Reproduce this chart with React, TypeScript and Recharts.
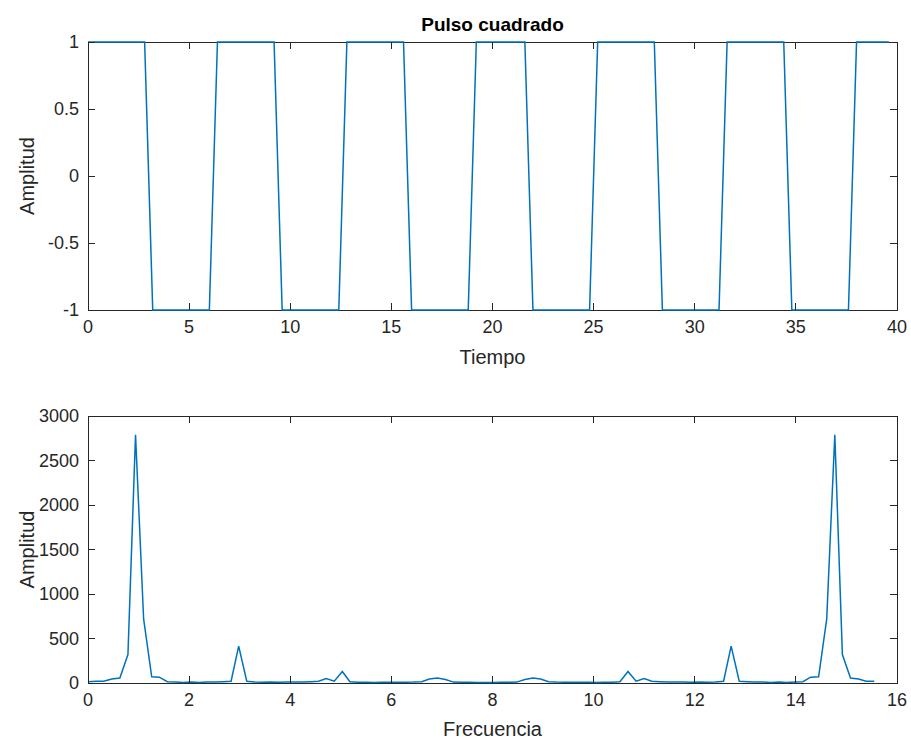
import { Line, LineChart, XAxis, YAxis } from "recharts";

// Pulso cuadrado: muestras cada 0.4 s
const TIEMPO = [
  0, 0.4, 0.8, 1.2, 1.6, 2, 2.4, 2.8, 3.2, 3.6, 4, 4.4, 4.8, 5.2, 5.6, 6, 6.4, 6.8, 7.2, 7.6,
  8, 8.4, 8.8, 9.2, 9.6, 10, 10.4, 10.8, 11.2, 11.6, 12, 12.4, 12.8, 13.2, 13.6, 14, 14.4, 14.8, 15.2, 15.6,
  16, 16.4, 16.8, 17.2, 17.6, 18, 18.4, 18.8, 19.2, 19.6, 20, 20.4, 20.8, 21.2, 21.6, 22, 22.4, 22.8, 23.2, 23.6,
  24, 24.4, 24.8, 25.2, 25.6, 26, 26.4, 26.8, 27.2, 27.6, 28, 28.4, 28.8, 29.2, 29.6, 30, 30.4, 30.8, 31.2, 31.6,
  32, 32.4, 32.8, 33.2, 33.6, 34, 34.4, 34.8, 35.2, 35.6, 36, 36.4, 36.8, 37.2, 37.6, 38, 38.4, 38.8, 39.2, 39.6,
];

const PULSO = [
  1, 1, 1, 1, 1, 1, 1, 1, -1, -1, -1, -1, -1, -1, -1, -1, 1, 1, 1, 1,
  1, 1, 1, 1, -1, -1, -1, -1, -1, -1, -1, -1, 1, 1, 1, 1, 1, 1, 1, 1,
  -1, -1, -1, -1, -1, -1, -1, -1, 1, 1, 1, 1, 1, 1, 1, -1, -1, -1, -1, -1,
  -1, -1, -1, 1, 1, 1, 1, 1, 1, 1, 1, -1, -1, -1, -1, -1, -1, -1, -1, 1,
  1, 1, 1, 1, 1, 1, 1, -1, -1, -1, -1, -1, -1, -1, -1, 1, 1, 1, 1, 1,
];

// Espectro (magnitud)
const FRECUENCIA = [
  0, 0.16, 0.31, 0.47, 0.63, 0.79, 0.94, 1.1, 1.26, 1.41, 1.57, 1.73, 1.88, 2.04, 2.2, 2.36, 2.51, 2.67, 2.83, 2.98,
  3.14, 3.3, 3.46, 3.61, 3.77, 3.93, 4.08, 4.24, 4.4, 4.56, 4.71, 4.87, 5.03, 5.18, 5.34, 5.5, 5.65, 5.81, 5.97, 6.13,
  6.28, 6.44, 6.6, 6.75, 6.91, 7.07, 7.23, 7.38, 7.54, 7.7, 7.85, 8.01, 8.17, 8.33, 8.48, 8.64, 8.8, 8.95, 9.11, 9.27,
  9.42, 9.58, 9.74, 9.9, 10.05, 10.21, 10.37, 10.52, 10.68, 10.84, 11, 11.15, 11.31, 11.47, 11.62, 11.78, 11.94, 12.1, 12.25, 12.41,
  12.57, 12.72, 12.88, 13.04, 13.19, 13.35, 13.51, 13.67, 13.82, 13.98, 14.14, 14.29, 14.45, 14.61, 14.77, 14.92, 15.08, 15.24, 15.39, 15.55,
];

const MAGNITUD = [
  15, 20, 20, 45, 55, 320, 2790, 720, 70, 65, 15, 10, 6, 10, 6, 10, 10, 15, 20, 415,
  20, 10, 8, 10, 8, 10, 10, 12, 15, 20, 50, 20, 130, 15, 8, 8, 6, 8, 8, 8,
  8, 10, 15, 45, 55, 40, 10, 8, 8, 6, 5, 6, 8, 8, 10, 40, 55, 45, 15, 10,
  8, 8, 8, 8, 6, 8, 8, 15, 130, 20, 50, 20, 15, 12, 10, 10, 8, 10, 8, 10,
  20, 415, 20, 15, 10, 10, 6, 10, 6, 10, 15, 65, 70, 720, 2790, 320, 55, 45, 20, 20,
];

const TICKS_TIEMPO = [0, 5, 10, 15, 20, 25, 30, 35, 40];
const TICKS_PULSO = [-1, -0.5, 0, 0.5, 1];
const TICKS_FRECUENCIA = [0, 2, 4, 6, 8, 10, 12, 14, 16];
const TICKS_MAGNITUD = [0, 500, 1000, 1500, 2000, 2500, 3000];

const AXIS = "#262626";
const BLUE = "#0072BD";
const FONT = "'Liberation Sans', Arial, Helvetica, sans-serif";
const TICK_FONT = 18;
const LABEL_FONT = 20;
const TICK = 7;
const W = 911;
const H = 370;
const PLOT_LEFT = 88;
const PLOT_RIGHT = 897;

// ticks hacia dentro, abajo y arriba
const makeXTick = (plotTop: number) => (props: any) => {
  const { x, y, payload } = props;
  return (
    <g>
      <line x1={x} x2={x} y1={y} y2={y - TICK} stroke={AXIS} shapeRendering="crispEdges" />
      <line x1={x} x2={x} y1={plotTop} y2={plotTop + TICK} stroke={AXIS} shapeRendering="crispEdges" />
      <text x={x} y={y + 23} textAnchor="middle" fill={AXIS} fontSize={TICK_FONT} fontFamily={FONT}>
        {payload.value}
      </text>
    </g>
  );
};

const makeYTick = () => (props: any) => {
  const { x, y, payload } = props;
  return (
    <g>
      <line x1={x} x2={x + TICK} y1={y} y2={y} stroke={AXIS} shapeRendering="crispEdges" />
      <line x1={PLOT_RIGHT} x2={PLOT_RIGHT - TICK} y1={y} y2={y} stroke={AXIS} shapeRendering="crispEdges" />
      <text x={x - 9} y={y} dy="0.35em" textAnchor="end" fill={AXIS} fontSize={TICK_FONT} fontFamily={FONT}>
        {payload.value}
      </text>
    </g>
  );
};

const yTitle = {
  value: "Amplitud",
  angle: -90,
  position: "insideLeft" as const,
  offset: 27,
  fill: AXIS,
  fontSize: LABEL_FONT,
  fontFamily: FONT,
  style: { textAnchor: "middle" },
};

// marco de los ejes, detrás del svg para que la línea quede encima
function Frame({ top, bottom }: { top: number; bottom: number }) {
  return (
    <div
      style={{
        position: "absolute",
        left: PLOT_LEFT,
        top,
        width: PLOT_RIGHT - PLOT_LEFT + 1,
        height: bottom - top + 1,
        border: `1px solid ${AXIS}`,
        boxSizing: "border-box",
      }}
    />
  );
}

function Panel({
  data,
  plotTop,
  xHeight,
  xTicks,
  xDomain,
  yTicks,
  yDomain,
  xTitle,
  xTitleOffset,
}: {
  data: { x: number; y: number }[];
  plotTop: number;
  xHeight: number;
  xTicks: number[];
  xDomain: [number, number];
  yTicks: number[];
  yDomain: [number, number];
  xTitle: string;
  xTitleOffset: number;
}) {
  return (
    <LineChart
      width={W}
      height={H}
      data={data}
      margin={{ top: plotTop, right: W - PLOT_RIGHT, bottom: 0, left: 0 }}
    >
      <XAxis
        dataKey="x"
        type="number"
        domain={xDomain}
        ticks={xTicks}
        interval={0}
        height={xHeight}
        axisLine={false}
        tickLine={false}
        tickSize={0}
        tickMargin={0}
        tick={makeXTick(plotTop)}
        label={{
          value: xTitle,
          position: "insideBottom",
          offset: xTitleOffset,
          fill: AXIS,
          fontSize: LABEL_FONT,
          fontFamily: FONT,
        }}
      />
      <YAxis
        type="number"
        domain={yDomain}
        ticks={yTicks}
        interval={0}
        width={PLOT_LEFT}
        axisLine={false}
        tickLine={false}
        tickSize={0}
        tickMargin={0}
        tick={makeYTick()}
        label={yTitle}
      />
      <Line
        type="linear"
        dataKey="y"
        stroke={BLUE}
        strokeWidth={1.5}
        dot={false}
        activeDot={false}
        isAnimationActive={false}
      />
    </LineChart>
  );
}

export default function App() {
  const pulso = TIEMPO.map((t, i) => ({ x: t, y: PULSO[i] }));
  const espectro = FRECUENCIA.map((f, i) => ({ x: f, y: MAGNITUD[i] }));

  return (
    <div
      style={{
        position: "absolute",
        left: 0,
        top: 0,
        width: W,
        height: 740,
        background: "#fff",
        fontFamily: FONT,
      }}
    >
      <Frame top={42} bottom={310} />
      <Frame top={370 + 46} bottom={370 + 313} />
      <div
        style={{
          position: "absolute",
          left: PLOT_LEFT,
          width: PLOT_RIGHT - PLOT_LEFT,
          top: 13,
          lineHeight: "24px",
          textAlign: "center",
          fontSize: 19,
          fontWeight: "bold",
          color: "#000",
        }}
      >
        Pulso cuadrado
      </div>
      <Panel
        data={pulso}
        plotTop={42}
        xHeight={60}
        xTicks={TICKS_TIEMPO}
        xDomain={[0, 40]}
        yTicks={TICKS_PULSO}
        yDomain={[-1, 1]}
        xTitle="Tiempo"
        xTitleOffset={6}
      />
      <Panel
        data={espectro}
        plotTop={46}
        xHeight={57}
        xTicks={TICKS_FRECUENCIA}
        xDomain={[0, 16]}
        yTicks={TICKS_MAGNITUD}
        yDomain={[0, 3000]}
        xTitle="Frecuencia"
        xTitleOffset={4}
      />
    </div>
  );
}
